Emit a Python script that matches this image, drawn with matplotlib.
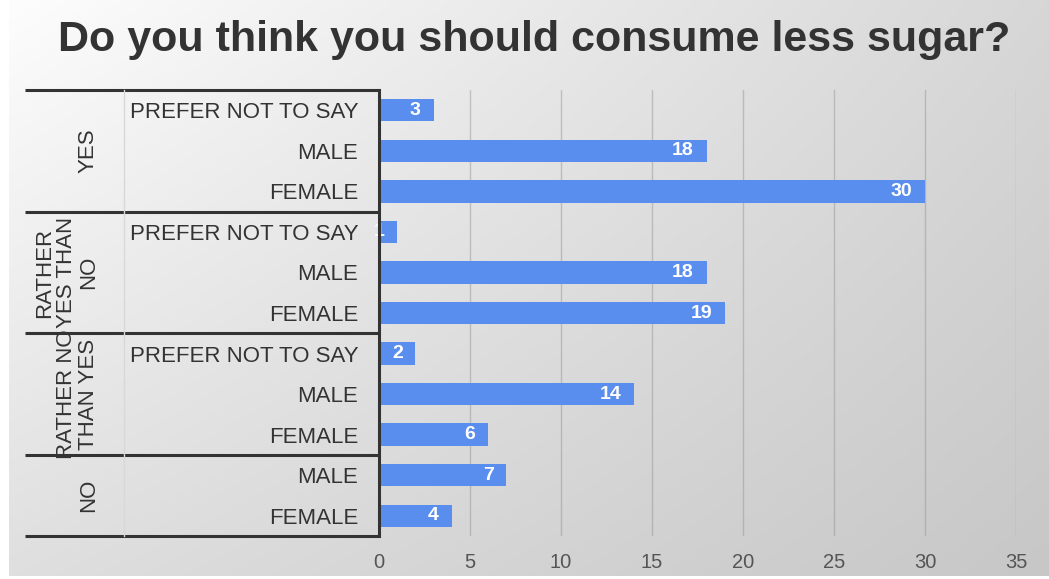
import matplotlib.pyplot as plt
import matplotlib.transforms as mtransforms
import numpy as np

plt.rcParams['font.family'] = ['Liberation Sans', 'DejaVu Sans']

# rows from top to bottom
groups = ['YES', 'RATHER\nYES THAN\nNO', 'RATHER NO\nTHAN YES', 'NO']
group_sizes = [3, 3, 3, 2]
categories = ['PREFER NOT TO SAY', 'MALE', 'FEMALE',
              'PREFER NOT TO SAY', 'MALE', 'FEMALE',
              'PREFER NOT TO SAY', 'MALE', 'FEMALE',
              'MALE', 'FEMALE']
values = [3, 18, 30, 1, 18, 19, 2, 14, 6, 7, 4]
xticks = [0, 5, 10, 15, 20, 25, 30, 35]

W, H = 1049, 579
fig = plt.figure(figsize=(W / 100, H / 100), dpi=100)
fig.patch.set_facecolor('white')

# soft grey gradient behind the chart
bg = fig.add_axes([9 / W, 3 / H, 1 - 9 / W, 1 - 3 / H], zorder=-10)
gx = np.linspace(0, 1, 300)
gy = np.linspace(0, 1, 200)
X, Y = np.meshgrid(gx, gy)
shade = 253 - 38 * X - 30 * Y + 14 * X * Y
bg.imshow(np.dstack([shade] * 3) / 255, aspect='auto', extent=(0, 1, 1, 0))
bg.axis('off')

ax = fig.add_axes([379 / W, 1 - 536 / H, (1016 - 379) / W, (536 - 90) / H])
ax.set_facecolor('none')

y = np.arange(len(values))
bars = ax.barh(y, values, height=0.55, color='#5a8eee', zorder=3)
for b, v in zip(bars, values):
    t = ax.text(b.get_width() - 0.7, b.get_y() + b.get_height() / 2, str(v),
                ha='right', va='center', color='white', fontsize=14,
                fontweight='bold', zorder=4)
    t.set_clip_path(b)

ax.set_xlim(0, 35)
ax.set_ylim(len(values) - 0.5, -0.5)
ax.set_xticks(xticks)
ax.set_yticks(y)
ax.set_yticklabels(categories, fontsize=16, color='#333333')
ax.tick_params(axis='y', length=0, pad=15)
ax.tick_params(axis='x', length=0, pad=12, labelsize=14.5, labelcolor='#555555')
ax.grid(axis='x', color='#909090', alpha=0.45, lw=1, zorder=0)
for s in ['top', 'right', 'bottom']:
    ax.spines[s].set_visible(False)
ax.spines['left'].set_color('#333333')
ax.spines['left'].set_linewidth(2.2)
ax.spines['left'].set_zorder(5)

# group brackets on the left
trans = mtransforms.blended_transform_factory(fig.transFigure, ax.transData)
bounds = np.concatenate([[0], np.cumsum(group_sizes)]) - 0.5
for b in bounds:
    ax.plot([25 / W, 379 / W], [b, b], transform=trans, color='#333333',
            lw=2.2, clip_on=False, solid_capstyle='butt')
ax.plot([124 / W, 124 / W], [bounds[0], bounds[-1]], transform=trans,
        color='#d8d8d8', lw=1, clip_on=False)
for g, lo, hi in zip(groups, bounds[:-1], bounds[1:]):
    ax.text(99 / W, (lo + hi) / 2, g, transform=trans, rotation=90,
            ha='right', va='center', multialignment='center',
            fontsize=16, color='#333333', linespacing=1.05)

fig.text(534 / W, 1 - 40 / H, 'Do you think you should consume less sugar?',
         ha='center', va='center', fontsize=31, fontweight='bold',
         color='#333333')

fig.savefig('out.png', dpi=100)
